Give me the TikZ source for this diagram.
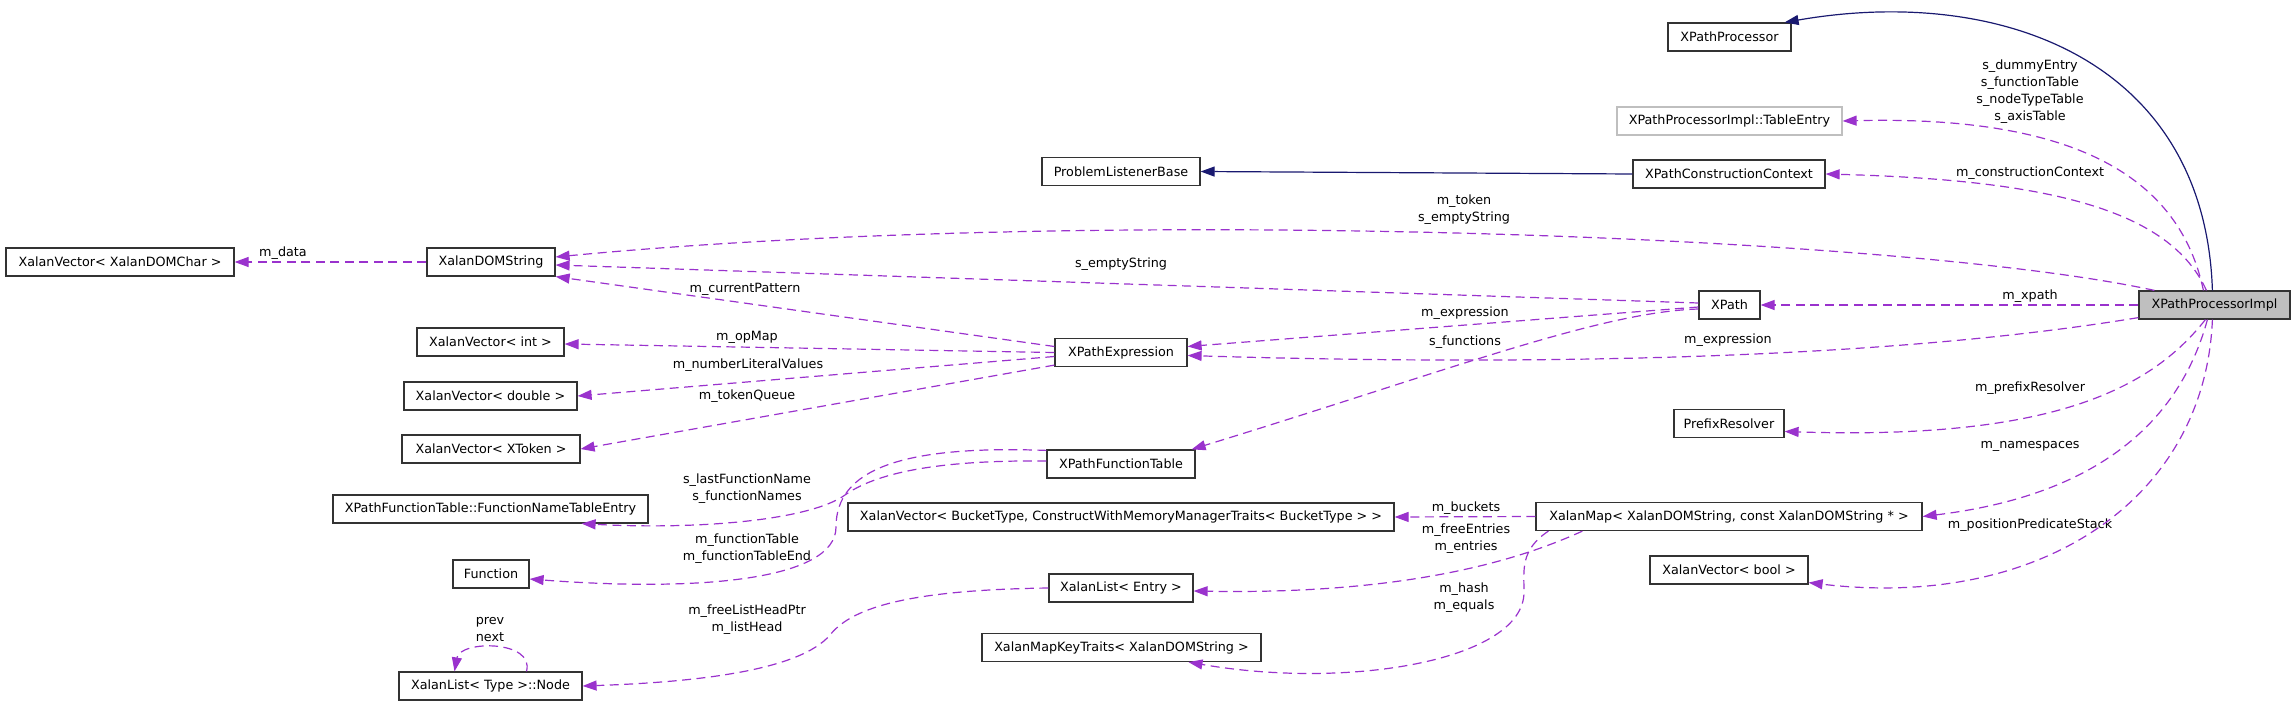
\documentclass[tikz,border=0pt]{standalone}
\usepackage{fontspec}
\setmainfont{DejaVu Sans}
\usetikzlibrary{arrows.meta}
\definecolor{edgepurple}{HTML}{9A32CD}
\definecolor{edgenavy}{HTML}{191970}
\definecolor{boxline}{HTML}{333333}
\definecolor{ghostline}{HTML}{BFBFBF}
\definecolor{implfill}{HTML}{BFBFBF}
\newcommand{\dgfont}{\fontsize{12.75}{17}\selectfont}
\begin{document}
\begin{tikzpicture}[x=1pt,y=-1pt,
  cls/.style={draw=boxline, line width=1.2pt, fill=white, minimum height=28pt, inner xsep=4pt, inner ysep=0pt, font=\dgfont, text=black},
  ghost/.style={cls, draw=ghostline},
  lab/.style={font=\dgfont, align=center, inner sep=0pt, text=black},
  uses/.style={draw=edgepurple, line width=1.2pt, dash pattern=on 9pt off 5.5pt, -{Triangle[length=14pt,width=10pt]}},
  inh/.style={draw=edgenavy, line width=1.2pt, -{Triangle[length=14pt,width=10pt]}}
]
\useasboundingbox (0,0) rectangle (2296,706);

% class boxes
\node[cls, minimum width=123pt] (xpp) at (1729.5,37) {XPathProcessor};
\node[ghost, minimum width=225pt] (te) at (1729.5,121) {XPathProcessorImpl::TableEntry};
\node[cls, minimum width=192pt] (cc) at (1729,174) {XPathConstructionContext};
\node[cls, minimum width=158pt] (plb) at (1121,171.5) {ProblemListenerBase};
\node[cls, minimum width=228pt] (vchar) at (120,262) {XalanVector< XalanDOMChar >};
\node[cls, minimum width=128pt] (ds) at (491,262) {XalanDOMString};
\node[cls, minimum width=147pt] (vint) at (490.5,342) {XalanVector< int >};
\node[cls, minimum width=173pt] (vdouble) at (490.5,396) {XalanVector< double >};
\node[cls, minimum width=178pt] (vxtoken) at (491,449) {XalanVector< XToken >};
\node[cls, minimum width=315pt] (fnte) at (490.5,509) {XPathFunctionTable::FunctionNameTableEntry};
\node[cls, minimum width=76pt] (func) at (491,574) {Function};
\node[cls, minimum width=183pt] (lnode) at (490.5,686) {XalanList< Type >::Node};
\node[cls, minimum width=132pt] (xpe) at (1121,352.5) {XPathExpression};
\node[cls, minimum width=148pt] (xft) at (1121,464) {XPathFunctionTable};
\node[cls, minimum width=546pt] (bucket) at (1121,517) {XalanVector< BucketType, ConstructWithMemoryManagerTraits< BucketType > >};
\node[cls, minimum width=144pt] (xle) at (1121,588) {XalanList< Entry >};
\node[cls, minimum width=279pt] (kt) at (1121.5,647.5) {XalanMapKeyTraits< XalanDOMString >};
\node[cls, minimum width=61pt] (xpath) at (1729.5,305) {XPath};
\node[cls, fill=implfill, minimum width=151pt] (impl) at (2214.5,305) {XPathProcessorImpl};
\node[cls, minimum width=110pt] (pr) at (1729,423.5) {PrefixResolver};
\node[cls, minimum width=386pt] (xmap) at (1729,516.5) {XalanMap< XalanDOMString, const XalanDOMString * >};
\node[cls, minimum width=158pt] (vbool) at (1729,570) {XalanVector< bool >};

% edge labels
\node[lab] (lmdata) at (283,253) {m\_data};
\node[lab] (ltoken) at (1464,209.5) {m\_token\\s\_emptyString};
\node[lab] (lempty) at (1121,264) {s\_emptyString};
\node[lab] (lcur) at (745,289) {m\_currentPattern};
\node[lab] (lop) at (747,337) {m\_opMap};
\node[lab] (lnum) at (748,365) {m\_numberLiteralValues};
\node[lab] (ltq) at (747,396) {m\_tokenQueue};
\node[lab] (lfn) at (747,489) {s\_lastFunctionName\\s\_functionNames};
\node[lab] (lft) at (747,549) {m\_functionTable\\m\_functionTableEnd};
\node[lab] (lflh) at (747,619.5) {m\_freeListHeadPtr\\m\_listHead};
\node[lab] (lpn) at (490,629.5) {prev\\next};
\node[lab] (lxexp) at (1465,313) {m\_expression};
\node[lab] (lsf) at (1465,342) {s\_functions};
\node[lab] (lbk) at (1466,508) {m\_buckets};
\node[lab] (lfe) at (1466,539) {m\_freeEntries\\m\_entries};
\node[lab] (lhe) at (1464,597.5) {m\_hash\\m\_equals};
\node[lab] (ltab) at (2030,92) {s\_dummyEntry\\s\_functionTable\\s\_nodeTypeTable\\s\_axisTable};
\node[lab] (lcc) at (2030,173) {m\_constructionContext};
\node[lab] (lxp) at (2030,296) {m\_xpath};
\node[lab] (limexp) at (1728,340) {m\_expression};
\node[lab] (lpr) at (2030,388) {m\_prefixResolver};
\node[lab] (lns) at (2030,446) {m\_namespaces};
\node[lab] (lpps) at (2030,525) {m\_positionPredicateStack};

% inheritance
\draw[inh] ([xshift=74pt]impl.north west) .. controls (2205,60) and (2000,-15) .. ([xshift=-7pt]xpp.north east);
\draw[inh] (cc.west) -- (plb.east);

% usage
\draw[uses] ([xshift=65pt]impl.north west) .. controls (2180,180) and (2080,115) .. (te.east);
\draw[uses] ([xshift=68pt]impl.north west) .. controls (2170,210) and (2050,180) .. (cc.east);
\draw[uses] ([xshift=16pt]impl.north west) .. controls (1900,235) and (1100,205) .. ([yshift=5pt]ds.east);
\draw[uses] (ds.west) -- (vchar.east);
\draw[uses] ([yshift=2pt]xpath.west) -- ([yshift=-3pt]ds.east);
\draw[uses] ([yshift=6pt]xpe.west) -- (ds.south east);
\draw[uses] (xpe.west) -- ([yshift=-2pt]vint.east);
\draw[uses] ([yshift=-4pt]xpe.west) -- (vdouble.east);
\draw[uses] ([yshift=2pt]xpe.south west) -- (vxtoken.east);
\draw[uses] (impl.west) -- (xpath.east);
\draw[uses] ([yshift=-2pt]xpath.west) -- ([yshift=6pt]xpe.east);
\draw[uses] ([yshift=2pt]impl.south west) .. controls (1870,362) and (1500,365) .. ([yshift=-3pt]xpe.east);
\draw[uses] ([yshift=-4pt]xpath.west) .. controls (1600,312) and (1450,370) .. ([xshift=-4pt]xft.north east);
\draw[uses] ([yshift=3pt]xft.west) .. controls (950,460) and (880,470) .. (845,495) .. controls (810,520) and (700,530) .. ([xshift=-67pt]fnte.south east);
\draw[uses] ([yshift=-1pt]xft.north west) .. controls (900,445) and (836,470) .. (836,527) .. controls (836,580) and (700,592) .. ([yshift=-5pt]func.east);
\draw[uses] (xle.west) .. controls (900,590) and (850,610) .. (830,635) .. controls (800,670) and (700,682) .. (lnode.east);
\draw[uses] ([xshift=36pt]lnode.north) .. controls (535,640) and (460,640) .. ([xshift=-36pt]lnode.north);
\draw[uses] (xmap.west) -- (bucket.east);
\draw[uses] ([xshift=47pt]xmap.south west) .. controls (1530,555) and (1420,595) .. ([yshift=-3pt]xle.east);
\draw[uses] ([xshift=13pt]xmap.south west) .. controls (1520,550) and (1524,570) .. (1524,592) .. controls (1524,660) and (1350,690) .. ([xshift=67pt]kt.south);
\draw[uses] ([xshift=67pt]impl.south west) .. controls (2150,390) and (2050,440) .. ([yshift=-8pt]pr.east);
\draw[uses] ([xshift=69pt]impl.south west) .. controls (2180,420) and (2100,495) .. (xmap.east);
\draw[uses] ([xshift=74pt]impl.south west) .. controls (2205,500) and (2040,610) .. ([yshift=2pt]vbool.south east);
\end{tikzpicture}
\end{document}
